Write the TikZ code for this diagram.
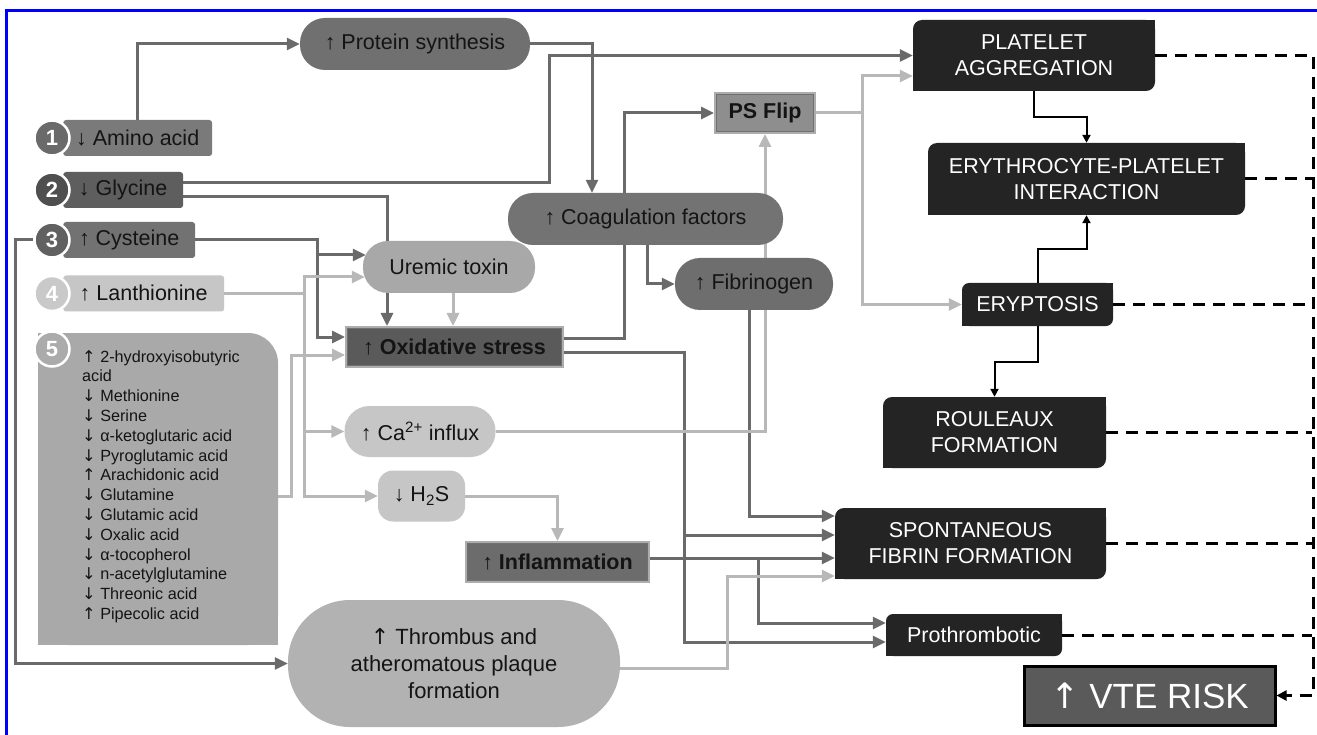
\documentclass[tikz,border=0pt]{standalone}
\usepackage{fontspec}
\setmainfont{Liberation Sans}
\newfontfamily\arrfont{DejaVu Sans}
\usetikzlibrary{arrows.meta,backgrounds}
\pgfdeclarelayer{bottom}
\pgfsetlayers{bottom,background,main}
\definecolor{dkline}{HTML}{6A6A6A}
\definecolor{ltline}{HTML}{B8B8B8}
\definecolor{blkfill}{HTML}{242424}
\definecolor{txtc}{HTML}{141414}
\definecolor{protc}{HTML}{707070}
\definecolor{coagc}{HTML}{737373}
\definecolor{fibc}{HTML}{6E6E6E}
\definecolor{urc}{HTML}{A8A8A8}
\definecolor{cac}{HTML}{C6C6C6}
\definecolor{thrc}{HTML}{B2B2B2}
\definecolor{oxc}{HTML}{5A5A5A}
\definecolor{infc}{HTML}{6C6C6C}
\definecolor{psc}{HTML}{8E8E8E}
\definecolor{dblc}{HTML}{ADADAD}
\definecolor{dblin}{HTML}{707070}
\definecolor{vtec}{HTML}{5A5A5A}
\definecolor{bxa}{HTML}{7A7A7A}
\definecolor{cia}{HTML}{6A6A6A}
\definecolor{bxb}{HTML}{5E5E5E}
\definecolor{cib}{HTML}{4F4F4F}
\definecolor{bxc}{HTML}{727272}
\definecolor{cic}{HTML}{616161}
\definecolor{bxd}{HTML}{C6C6C6}
\definecolor{cid}{HTML}{C9C9C9}
\definecolor{bxe}{HTML}{A9A9A9}
\definecolor{cie}{HTML}{ABABAB}
\newcommand\UA{↑}
\newcommand\DA{↓}
\newcommand\BU{{\arrfont ↑}}
\newcommand\BD{{\arrfont ↓}}
\newcommand\sqc[1]{\fill[blkfill] (#1.north east) rectangle ([xshift=-10pt,yshift=-10pt]#1.north east);
  \fill[blkfill] (#1.south west) rectangle ([xshift=10pt,yshift=10pt]#1.south west);}
\newcommand\dblinner[1]{\draw[dblin, line width=1pt] ([shift={(2.5pt,-2.5pt)}]#1.north west) rectangle ([shift={(-2.5pt,2.5pt)}]#1.south east);}
\tikzset{
  every node/.style={font=\fontsize{21.5}{24}\selectfont, text=txtc, inner sep=0pt},
  pill/.style={rounded corners=25pt, minimum height=52pt},
  dbl/.style={draw=dblc, line width=2pt, font=\bfseries\fontsize{21.5}{24}\selectfont},
  dk/.style={draw=dkline, line width=3pt},
  dkarr/.style={dk, -{Triangle[length=13pt,width=12pt]}},
  lt/.style={draw=ltline, line width=3pt},
  ltarr/.style={lt, -{Triangle[length=13pt,width=12pt]}},
  blkarr/.style={draw=black, line width=2pt, -{Triangle[length=8pt,width=8pt]}},
  dsh/.style={draw=black, line width=3pt, dash pattern=on 12pt off 8pt},
  blkbox/.style={fill=blkfill, rounded corners=9pt, text=white, align=center, font=\fontsize{21.5}{26}\selectfont},
  numbox/.style={rounded corners=3pt, minimum height=36pt, anchor=west},
  numc/.style={circle, minimum size=35pt, draw=white, line width=2.5pt, text=white, font=\bfseries\fontsize{22}{22}\selectfont},
}
\begin{document}
\begin{tikzpicture}[x=1pt,y=-1pt]
\useasboundingbox (0,0) rectangle (1317,735);
\begin{pgfonlayer}{bottom}
\fill[white] (0,0) rectangle (1317,735);
\end{pgfonlayer}
% left sources
\node[numbox, fill=bxa, minimum width=149pt] (am) at (63,138) {\DA\ Amino acid};
\node[numbox, fill=bxb, minimum width=120pt] (gly) at (63,190) {\DA\ Glycine};
\node[numbox, fill=bxc, minimum width=132pt] (cys) at (63,240) {\UA\ Cysteine};
\node[numbox, fill=bxd, minimum width=161pt] (lan) at (63,293.5) {\UA\ Lanthionine};
\node[fill=bxe, rounded corners=30pt, minimum width=240pt, minimum height=312pt] (b5) at (158,489) {};
\fill[bxe] (b5.north west) rectangle ([xshift=31pt,yshift=-31pt]b5.north west);
\fill[bxe] (b5.south west) rectangle ([xshift=31pt,yshift=31pt]b5.south west);
\fill[bxe] (b5.south east) rectangle ([xshift=-31pt,yshift=31pt]b5.south east);
\node[anchor=north west, align=left, font=\fontsize{16.2}{19.8}\selectfont] (b5t) at (82,350)
 {\BU\ 2-hydroxyisobutyric\\acid\\\BD\ Methionine\\\BD\ Serine\\\BD\ α-ketoglutaric acid\\\BD\ Pyroglutamic acid\\\BU\ Arachidonic acid\\\BD\ Glutamine\\\BD\ Glutamic acid\\\BD\ Oxalic acid\\\BD\ α-tocopherol\\\BD\ n-acetylglutamine\\\BD\ Threonic acid\\\BU\ Pipecolic acid};
\node[numc, fill=cia] (c1) at (52,138) {1};
\node[numc, fill=cib] (c2) at (52,190) {2};
\node[numc, fill=cic] (c3) at (52,240) {3};
\node[numc, fill=cid] (c4) at (52,293.5) {4};
\node[numc, fill=cie] (c5) at (52,349) {5};
% middle
\node[pill, fill=protc, minimum width=230pt] (prot) at (415,44) {\UA\ Protein synthesis};
\node[pill, fill=coagc, minimum width=275pt] (coag) at (645.5,219) {\UA\ Coagulation factors};
\node[dbl, fill=psc, minimum width=100pt, minimum height=40pt] (ps) at (765,113) {PS Flip};
\dblinner{ps}
\node[pill, fill=urc, minimum width=172pt] (ur) at (449,267) {Uremic toxin};
\node[dbl, fill=oxc, minimum width=217pt, minimum height=40pt] (ox) at (454.5,347) {\UA\ Oxidative stress};
\dblinner{ox}
\node[pill, fill=fibc, minimum width=158pt] (fib) at (754,284) {\UA\ Fibrinogen};
\node[pill, fill=cac, minimum width=151pt, minimum height=51pt] (ca) at (420,431.5) {\UA\ Ca\textsuperscript{2+} influx};
\node[fill=cac, rounded corners=15pt, minimum width=87pt, minimum height=51pt] (h2s) at (421.5,496) {\DA\ H\textsubscript{2}S};
\node[dbl, fill=infc, minimum width=183pt, minimum height=40pt] (inf) at (557.5,562) {\UA\ Inflammation};
\dblinner{inf}
\node[fill=thrc, rounded corners=62pt, minimum width=332pt, minimum height=127pt, align=center, font=\fontsize{22}{27}\selectfont] (thr) at (454,663.5) {\BU\ Thrombus and\\atheromatous plaque\\formation};
% right
\node[blkbox, minimum width=242pt, minimum height=71pt] (plat) at (1034,55.5) {PLATELET\\AGGREGATION};
\sqc{plat}
\node[blkbox, minimum width=317pt, minimum height=72pt] (eryth) at (1086.5,179) {ERYTHROCYTE-PLATELET\\INTERACTION};
\sqc{eryth}
\node[blkbox, rounded corners=7pt, minimum width=151pt, minimum height=43pt] (ery) at (1037.5,304.5) {ERYPTOSIS};
\sqc{ery}
\node[blkbox, minimum width=223pt, minimum height=71pt] (rou) at (994.5,432.5) {ROULEAUX\\FORMATION};
\sqc{rou}
\node[blkbox, minimum width=271pt, minimum height=71pt] (sp) at (970.5,543.5) {SPONTANEOUS\\FIBRIN FORMATION};
\sqc{sp}
\node[blkbox, rounded corners=7pt, minimum width=176pt, minimum height=42pt] (pro) at (974,635) {Prothrombotic};
\sqc{pro}
\node[fill=vtec, draw=black, line width=3pt, minimum width=251pt, minimum height=59pt, text=white, font=\fontsize{35}{35}\selectfont] (vte) at (1149.5,695.5) {\BU\ VTE RISK};
\coordinate (rail) at (1312,0);
\begin{scope}[on background layer]
% dark connectors
\draw[dkarr] (am.north) |- (prot.west);
\draw[dkarr] (prot.east) -| ([xshift=-53.5pt]coag.north);
\draw[dkarr] ([yshift=7pt]gly.east) -| ([xshift=-363pt]plat.west) -- (plat.west);
\draw[dkarr] ([yshift=-7pt]gly.east) -| ([xshift=-67.5pt]ox.north);
\draw[dkarr] (cys.east) -| ([xshift=-28pt,yshift=10pt]ox.west) -- ([yshift=10pt]ox.west);
\coordinate (jc) at (318,255);
\draw[dkarr] (jc) -- ([xshift=3pt,yshift=12pt]ur.west);
\draw[dkarr] (c3.west) -- ++(-17.5,0) |- (thr.west);
\draw[dkarr] ([yshift=9pt]ox.east) -| ([xshift=-90pt]ps.west) -- (ps.west);
\draw[dkarr] ([xshift=1.5pt]coag.south) |- (fib.west);
\draw[dkarr] ([xshift=-5pt]fib.south) |- ([yshift=27.5pt]sp.west);
\draw[dkarr] ([yshift=-5pt]ox.east) -| ([xshift=-201pt,yshift=-7pt]pro.west) -- ([yshift=-7pt]pro.west);
\coordinate (jo) at (685,535);
\draw[dkarr] (jo) -- ([yshift=8.5pt]sp.west);
\draw[dkarr] ([yshift=4pt]inf.east) -- ([yshift=-14.5pt]sp.west);
\coordinate (ji) at (758,558);
\draw[dkarr] (ji) |- ([yshift=12pt]pro.west);
% light connectors
\draw[ltarr] ([xshift=4pt]ur.south) -- ([xshift=-1.5pt]ox.north);
\draw[ltarr] (lan.east) -| ([xshift=-58pt,yshift=-10pt]ur.west) -- ([xshift=2pt,yshift=-10pt]ur.west);
\draw[ltarr] (lan.east) -| ([xshift=-39.5pt]ca.west) -- (ca.west);
\draw[ltarr] (lan.east) -| ([xshift=-73pt]h2s.west) -- (h2s.west);
\draw[ltarr] (b5.east |- h2s.west) -| ([xshift=-54pt,yshift=-8pt]ox.west) -- ([yshift=-8pt]ox.west);
\draw[ltarr] (h2s.east) -| (inf.north);
\draw[ltarr] (ca.east) -| (ps.south);
\draw[ltarr] (ps.east) -| ([xshift=-50pt,yshift=-20.5pt]plat.west) -- ([yshift=-20.5pt]plat.west);
\draw[ltarr] (ps.east) -| ([xshift=-99pt]ery.west) -- (ery.west);
\draw[ltarr] ([yshift=-4.5pt]thr.east) -| ([xshift=-107pt,yshift=-32.5pt]sp.west) -- ([yshift=-32.5pt]sp.west);
% black connectors
\draw[blkarr] (plat.south) -- ++(0,26) -| (eryth.north);
\draw[blkarr] (ery.north) -- ++(0,-34) -| (eryth.south);
\draw[blkarr] (ery.south) -- ++(0,36) -| (rou.north);
% dashed
\draw[dsh, -{Triangle[length=10pt,width=10pt]}] (plat.east) -| ([xshift=37pt]vte.east) -- (vte.east);
\draw[dsh] (eryth.east) -- (eryth.east -| rail);
\draw[dsh] (ery.east) -- (ery.east -| rail);
\draw[dsh] (rou.east) -- (rou.east -| rail);
\draw[dsh] (sp.east) -- (sp.east -| rail);
\draw[dsh] (pro.east) -- (pro.east -| rail);
\end{scope}
\draw[blue, line width=3pt] (6,735) -- (6,10.5) -- (1317,10.5);
\end{tikzpicture}
\end{document}
